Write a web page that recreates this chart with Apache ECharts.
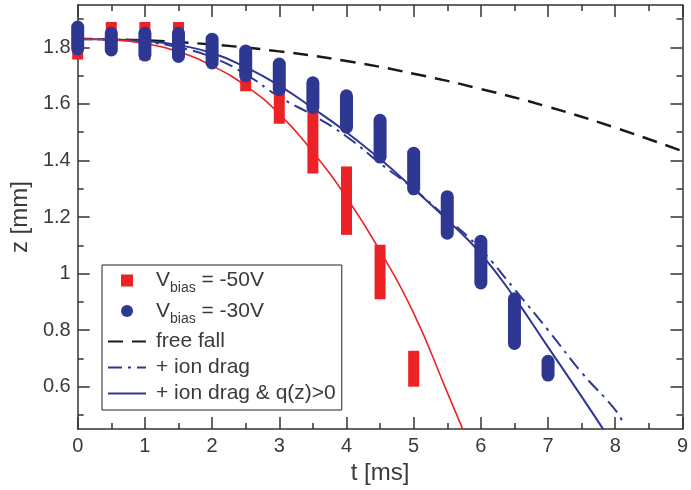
<!DOCTYPE html>
<html lang="en">
<head>
    <meta charset="UTF-8">
    <title>Falling particle z(t)</title>
    <script src="https://cdn.jsdelivr.net/npm/echarts@6/dist/echarts.min.js"></script>
    <style>
        html, body { margin: 0; padding: 0; background: #fff; }
        #chart { width: 691px; height: 490px; }
    </style>
</head>
<body>
    <div id="chart"></div>
    <script>
        // measured columns (t in ms, z range in mm)
        var redT    = [0, 0.5, 1, 1.5, 2, 2.5, 3, 3.5, 4, 4.5, 5];
        var redLow  = [1.757, 1.78, 1.755, 1.76, 1.74, 1.645, 1.53, 1.354, 1.137, 0.909, 0.60];
        var redHigh = [1.88, 1.89, 1.89, 1.89, 1.84, 1.74, 1.66, 1.59, 1.379, 1.102, 0.727];

        var blueT    = [0, 0.5, 1, 1.5, 2, 2.5, 3, 3.5, 4, 4.5, 5, 5.5, 6, 6.5, 7];
        var blueLow  = [1.772, 1.768, 1.75, 1.745, 1.722, 1.677, 1.628, 1.565, 1.495, 1.389, 1.277, 1.12, 0.944, 0.73, 0.618];
        var blueHigh = [1.895, 1.873, 1.873, 1.873, 1.852, 1.81, 1.764, 1.698, 1.652, 1.565, 1.449, 1.295, 1.137, 0.934, 0.713];

        // model curves
        var freeT = [0, 1, 2, 3, 4, 5, 6, 7, 8, 9];
        var freeZ = [1.83, 1.825, 1.81, 1.786, 1.752, 1.707, 1.653, 1.59, 1.516, 1.433];

        var dragT = [0, 0.5, 1, 1.5, 2, 2.5, 3, 3.5, 4, 4.5, 5, 5.5, 6, 6.5, 7, 7.5, 8, 8.12];
        var dragZ = [1.83, 1.828, 1.82, 1.80, 1.765, 1.705, 1.625, 1.56, 1.485, 1.39, 1.30, 1.195, 1.085, 0.945, 0.80, 0.65, 0.518, 0.47];

        var chargeT = [0, 0.5, 1, 1.5, 2, 2.5, 3, 3.5, 4, 4.5, 5, 5.5, 6, 6.5, 7, 7.5, 7.82];
        var chargeZ = [1.83, 1.828, 1.822, 1.808, 1.78, 1.73, 1.665, 1.585, 1.50, 1.405, 1.30, 1.19, 1.07, 0.915, 0.74, 0.565, 0.45];

        var redFitT = [0, 0.5, 1, 1.5, 2, 2.5, 3, 3.5, 4, 4.5, 5, 5.5, 5.73];
        var redFitZ = [1.83, 1.827, 1.814, 1.785, 1.735, 1.664, 1.565, 1.43, 1.27, 1.08, 0.86, 0.58, 0.45];

        // axis ticks
        var yTicks = [0.6, 0.8, 1, 1.2, 1.4, 1.6, 1.8];
        var yMinorTicks = [0.5, 0.7, 0.9, 1.1, 1.3, 1.5, 1.7, 1.9];

        var RED = '#ec2227';
        var BLUE = '#2e3792';
        var FONT = 'Liberation Sans';
        var axisColor = '#333';
        var textColor = '#3a3a3a';

        function pairs(xs, ys) {
            return xs.map(function (x, i) { return [x, ys[i]]; });
        }
        function ranges(xs, lo, hi) {
            return xs.map(function (x, i) { return [x, lo[i], hi[i]]; });
        }

        function columnRenderer(width, rounded) {
            return function (params, api) {
                var top = api.coord([api.value(0), api.value(2)]);
                var bot = api.coord([api.value(0), api.value(1)]);
                return {
                    type: 'rect',
                    shape: {
                        x: top[0] - width / 2,
                        y: top[1],
                        width: width,
                        height: bot[1] - top[1],
                        r: rounded ? width / 2 : 0
                    },
                    style: { fill: api.visual('color') }
                };
            };
        }

        var chart = echarts.init(document.getElementById('chart'));

        var yBase = {
            type: 'value', min: 0.45, max: 1.95,
            splitLine: { show: false },
            axisLabel: { show: false }
        };
        var noSymbol = { color: 'rgba(0,0,0,0)', borderWidth: 0 };

        var option = {
            animation: false,
            textStyle: { fontFamily: FONT },
            grid: { left: 77, right: 4, top: 5, bottom: 57 },
            legend: {
                left: 102, top: 265,
                orient: 'vertical',
                itemWidth: 38, itemHeight: 12,
                itemGap: 5,
                padding: [5, 6, 6, 5],
                borderColor: '#222', borderWidth: 1,
                backgroundColor: '#fff',
                textStyle: {
                    fontFamily: FONT, fontSize: 21, color: textColor,
                    padding: [0, 0, 0, 5],
                    rich: {
                        n: { fontSize: 21, fontFamily: FONT, color: textColor },
                        sub: { fontSize: 14, fontFamily: FONT, color: textColor, padding: [16, 0, 0, 0] }
                    }
                },
                formatter: function (name) {
                    if (name.indexOf('Vbias') === 0) {
                        return '{n|V}{sub|bias}{n|' + name.slice(5) + '}';
                    }
                    return name;
                },
                data: [
                    { name: 'Vbias = -50V', icon: 'path://M0 0H10V10H0Z' },
                    { name: 'Vbias = -30V', icon: 'circle' },
                    { name: 'free fall', itemStyle: noSymbol },
                    { name: '+ ion drag', itemStyle: noSymbol },
                    { name: '+ ion drag & q(z)>0', itemStyle: noSymbol }
                ]
            },
            xAxis: [{
                type: 'value', min: 0, max: 9, interval: 1,
                position: 'bottom',
                name: 't [ms]', nameLocation: 'middle', nameGap: 29,
                nameTextStyle: { fontFamily: FONT, fontSize: 24, color: textColor },
                axisLine: { lineStyle: { color: axisColor, width: 1.5 } },
                axisTick: { inside: true, length: 12, lineStyle: { color: axisColor, width: 1.5 } },
                minorTick: { show: true, splitNumber: 2, length: 6, lineStyle: { color: axisColor, width: 1.5 } },
                axisLabel: { fontFamily: FONT, fontSize: 20, color: textColor, margin: 7 },
                splitLine: { show: false }
            }, {
                type: 'value', min: 0, max: 9, interval: 1,
                position: 'top',
                axisLine: { lineStyle: { color: axisColor, width: 1.5 } },
                axisTick: { inside: true, length: 12, lineStyle: { color: axisColor, width: 1.5 } },
                minorTick: { show: true, splitNumber: 2, length: 6, lineStyle: { color: axisColor, width: 1.5 } },
                axisLabel: { show: false },
                splitLine: { show: false }
            }],
            yAxis: [
                Object.assign({}, yBase, {
                    position: 'left',
                    name: 'z [mm]', nameLocation: 'middle', nameGap: 44, nameRotate: 90,
                    nameTextStyle: { fontFamily: FONT, fontSize: 24, color: textColor },
                    axisLine: { show: true, lineStyle: { color: axisColor, width: 1.5 } },
                    axisTick: { inside: true, length: 12, customValues: yTicks, lineStyle: { color: axisColor, width: 1.5 } },
                    axisLabel: { show: true, customValues: yTicks, fontFamily: FONT, fontSize: 20, color: textColor, margin: 7 }
                }),
                Object.assign({}, yBase, {
                    position: 'left',
                    axisLine: { show: false },
                    axisTick: { inside: true, length: 6, customValues: yMinorTicks, lineStyle: { color: axisColor, width: 1.5 } }
                }),
                Object.assign({}, yBase, {
                    position: 'right',
                    axisLine: { show: true, lineStyle: { color: axisColor, width: 1.5 } },
                    axisTick: { inside: true, length: 12, customValues: yTicks, lineStyle: { color: axisColor, width: 1.5 } }
                }),
                Object.assign({}, yBase, {
                    position: 'right',
                    axisLine: { show: false },
                    axisTick: { inside: true, length: 6, customValues: yMinorTicks, lineStyle: { color: axisColor, width: 1.5 } }
                })
            ],
            series: [
                {
                    name: 'free fall', type: 'line', smooth: true, symbol: 'none', z: 1,
                    color: '#1a1a1a',
                    lineStyle: { width: 2.5, type: [15, 9] },
                    data: pairs(freeT, freeZ)
                },
                {
                    name: '+ ion drag', type: 'line', smooth: true, symbol: 'none', z: 1,
                    color: BLUE,
                    lineStyle: { width: 2, type: [14, 6, 3, 6] },
                    data: pairs(dragT, dragZ)
                },
                {
                    name: '+ ion drag & q(z)>0', type: 'line', smooth: true, symbol: 'none', z: 1,
                    color: BLUE,
                    lineStyle: { width: 2 },
                    data: pairs(chargeT, chargeZ)
                },
                {
                    name: 'fit -50V', type: 'line', smooth: true, symbol: 'none', z: 1,
                    color: RED,
                    lineStyle: { width: 1.6 },
                    data: pairs(redFitT, redFitZ)
                },
                {
                    name: 'Vbias = -50V', type: 'custom', z: 2,
                    color: RED,
                    encode: { x: 0, y: [1, 2] },
                    renderItem: columnRenderer(11, false),
                    data: ranges(redT, redLow, redHigh)
                },
                {
                    name: 'Vbias = -30V', type: 'custom', z: 3,
                    color: BLUE,
                    encode: { x: 0, y: [1, 2] },
                    renderItem: columnRenderer(13, true),
                    data: ranges(blueT, blueLow, blueHigh)
                }
            ]
        };

        chart.setOption(option);
    </script>
</body>
</html>
